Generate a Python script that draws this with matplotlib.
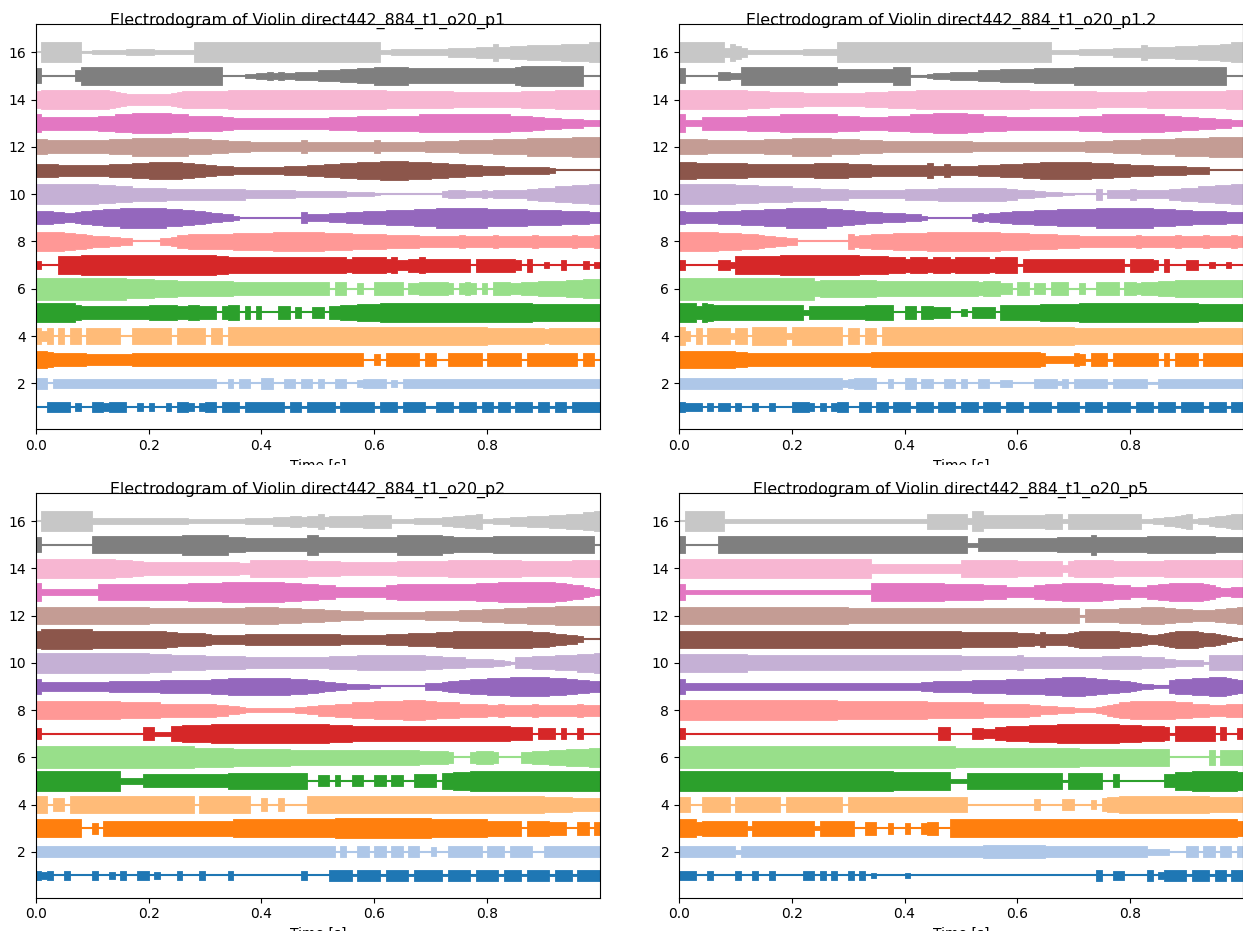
import numpy as np
import matplotlib
matplotlib.use("Agg")
import matplotlib.pyplot as plt
from matplotlib.transforms import Bbox, TransformedBbox

# Electrodograms: 16 electrodes per panel. Each electrode is one string of
# 100 envelope levels, one per 10 ms, written in 10 groups of 0.1 s.
# '0' = no pulses (baseline only), '1'..'a' = pulse amplitude in LEVEL_STEP units.
TITLE_BASE = "Electrodogram of Violin direct442_884_t1_o20_"
PANEL_NAMES = ["p1", "p1.2", "p2", "p5"]
SEGMENT_DUR = 0.01
LEVEL_STEP = 0.046

P1 = [
    "0055550400 5545550040 4004055404 5505551555 5555155155 5551555555 1555155551 1555155515 5155155515 5155155555",
    "5504444444 4444444444 4444444444 4400404400 5500440440 4004400344 4403044444 4444444444 4444444444 4444444444",
    "8876666665 5555555666 6666666666 6666666666 6666666666 6666666600 5066666606 6006666660 6666660666 6666660660",
    "7570707707 7777700777 7777077777 0770888888 8888888888 8888888888 8888888888 8888888888 7777777777 6777777777",
    "9999999766 6666666666 7777766776 6606770606 0006605005 5066777888 8999999999 9999999999 9999999988 8888888888",
    "aaaaaaaaaa aaaaaa9999 9888877777 7777766666 6666666666 6606600500 6666605566 6665056505 0666556667 7777888999",
    "4000888899 9999999999 9999999999 9988777777 7777777777 7777767777 7767556676 6666666066 6666650600 3005000403",
    "9999988776 5554433000 0033466777 7777788888 8899999999 9888887777 7766666655 5555565555 5655555565 5555565556",
    "6665544566 7788899999 9998887766 5443320000 0000000533 3344455566 6677777888 8999999999 8888888777 7776666655",
    "9999999999 9888777666 6665555555 5555555444 4444443333 3333322222 1000000000 0034443334 3444444556 6677788899",
    "6666555555 5556666777 8888887766 5544433333 3333444455 5666777888 8999998888 7776665554 4443333333 3200000000",
    "7766666666 6667777888 8888888777 7666555544 4444444644 4444444444 6444444445 5555566666 6777777888 8888899999",
    "8666666666 6777888999 9999888777 7776655555 5555555555 5566666777 7777777788 8888888888 8888777766 5554444333",
    "8999999999 9998765555 5555678888 8888999999 9999999999 9999999999 9988888888 8888777777 7777778888 8899999999",
    "7000000588 8888888888 8888888888 8880000223 3434334444 5555666777 8888887777 7777777777 7777789999 9999999000",
    "0999999911 2222223333 3222222299 9999999999 9999999999 9999999999 9223333333 3334444455 5855666777 7778888899",
]

P1_2 = [
    "5444040440 4004004000 5554040455 0055055155 5155515551 5551555155 5155551555 5155515555 1555155515 5551555155",
    "5555555555 5555555555 5555555553 4555500400 5504400440 4004400330 0004444240 4444441444 4441144444 4444444444",
    "8888888888 7766666666 6666666666 6666777777 7777777777 7777777777 7777633333 6516661666 6666606066 6606666666",
    "8507077773 7708888883 8888888880 7707708888 8888888888 8888888888 8888888888 7777777777 7777777777 7777777777",
    "9996987777 7777777777 7726666666 6667777700 6606655500 3055550777 7777888888 8999999999 9999999999 9988888888",
    "aaaaaaaaaa aaaaaaaaaa aaaa788888 8888877777 7777777777 7776777550 6605506660 0500666606 6566677788 8888888888",
    "5000000553 8888888899 9999999999 9988888777 6777677767 7777767777 1666666666 6666666661 6666506000 5500300300",
    "9999999888 8777655443 3000000000 7566777788 8888999999 9999999888 8877777666 6555555555 5655555565 5556555565",
    "6555555666 6777788889 9999998887 7665554444 3332000000 0034344556 6667777888 8888999999 9999888877 7666666555",
    "9999999999 8888777777 6666655555 4444444444 5555556666 6666666655 4443322211 0000504444 5444444556 6677788899",
    "8887777777 7766666666 6666777777 6666555555 5555744644 4445555666 6777888888 8887777666 5555444444 3333000000",
    "7777766666 6666677777 8888888777 7766665555 5555555555 5544444444 4444444444 4455555666 6677777788 8888999999",
    "8333666666 6677777788 8888888877 7766666777 7888899999 9888777766 6666666666 6777788888 8888887776 6655544433",
    "9999999999 9988887777 7766666666 6667777888 8899999999 9999999999 9988888888 8888777777 7778888888 8888888999",
    "7000000443 3888888888 8888888866 6666666688 8111233344 4445555666 6667777777 8888888888 8888888888 8888888000",
    "9999999948 6422222222 2233333399 9999999999 9999999999 9999999999 9999992222 2333333444 4475555566 6677778899",
]

P2 = [
    "4340040000 4003040044 0300040004 0000400000 0000000400 0055551555 5155551555 5515555155 5515551555 5155515555",
    "5555555555 5555555555 5555555555 5555555555 5555555555 5550500550 5505505500 4005555550 5550555500 5555555555",
    "8888888800 5077777777 7777777777 7777788888 8888888888 8889999999 9999999999 8888888888 7777770777 7666006606",
    "8806608888 8888888888 8888888808 8888888800 6006000088 8888888888 8888888888 8888888888 8888888888 7777766666",
    "9999999999 9999933336 6666666666 6666777777 7777777700 5505005500 5505500666 6077888999 9999999999 9999999999",
    "aaaaaaaaaa aaaaaaaaaa aaaaaaaa99 9999988888 8888877777 7777777777 7777777766 6665000566 6500005566 6777888899",
    "5000000000 0000000006 6222778888 8999999999 9999999999 9988887777 7777777777 7777777777 7777666605 5505005000",
    "8888888888 8888877777 7766666666 6655443222 2222223344 5556667777 8888899998 8777766666 5565555565 5555556555",
    "7444444444 4445555555 5566666666 6777888888 8888877766 5443322221 1000000003 3345566777 8888999999 9888776655",
    "9999999999 9999999999 8888777777 6666666555 5555555555 5566666777 7777777776 6655554444 4332155566 6677778889",
    "8999999999 8888888888 8887766666 5444444555 5555555555 5555444444 4455556666 6777888888 8888888877 7655443000",
    "8888888888 8888888888 7777777777 7777777888 8887777666 6555444433 3333333334 4444455556 6667777888 8899999999",
    "8333333333 3777777777 7777777888 8889999999 9999888777 6665555555 5566777777 7777777788 8899999999 9988766543",
    "9999999999 9999888776 6666666666 6666665588 8888888877 7777666666 6666777777 7778888888 8888887777 7777788888",
    "7000000000 8888888888 8888889999 9999777666 6666666699 7777777777 7777999999 9988777777 7888888888 8888888880",
    "0999999999 3333333333 3333333222 2222222333 3344455455 7455555566 6662222333 3344556672 2333444555 5666777889",
]

P5 = [
    "4440040000 4004004000 0044040400 4040200000 2000000000 0000000000 0000000000 0000500440 0005035555 1555155155",
    "5555555555 2555555555 5555555555 5555555555 5555555555 5555666666 6666655555 5555555555 5553333000 5505505505",
    "8886777777 7727777777 7777277777 7006600500 5005660088 8888888888 8888888888 8888888888 8888888888 8888888887",
    "7700777770 7777777707 7777777770 7777777777 7777777777 7000000000 0005000055 0004067788 8888888888 8888777777",
    "9999999999 9999999999 9999999999 9999999988 8888888822 2777777777 7777777717 7777700600 0000006688 8999999998",
    "aaaaaaaaaa aaaaaaaaaa aaaaaaaaaa aaaaaaaaaa aaaaaaaaa9 9999999999 9999999999 9888888888 8888888000 0000707777",
    "5000000000 0000000000 0000000000 0000000000 0000006600 0055446677 7788888999 9999999988 8877776177 7777706005",
    "9999999999 9999999999 9999999988 8888888888 8888777777 7777666666 6655444333 2222345677 8888888877 7666555666",
    "7333333333 3333333333 3333333333 3333333333 3334455555 5566666677 7777788899 9988776655 4322111677 7888999876",
    "8888888888 8877777777 7777777777 7777777777 7777777777 6666666666 7555555555 5555566666 6655554433 3331777777",
    "8888888888 8888888888 8888888888 8888888888 8888888888 7777777777 6665755556 7888888877 6654456788 8876654321",
    "8888888888 8888888888 8888888888 7777777777 7777777777 7777777777 7777777777 7166666677 7788887766 6555566778",
    "7222222222 2222222222 2222222222 2222888888 8888888777 7777666655 5556677788 8888877666 5556677888 8887654455",
    "9999999999 9999999999 9999999999 9999444444 4444444444 8888888888 7777777737 8888888777 7777778888 8888888888",
    "8000000888 8888888888 8888888888 8888888888 8888888888 8226666666 6666666777 7779777777 7778888888 8888877777",
    "0999999922 2222222222 2222222222 2222222222 2222777777 7399666666 6666677727 7777777777 7722334456 7233455677",
]

PANELS = [P1, P1_2, P2, P5]

# axes boxes in pixels: left, top, right, bottom
W, H = 1243, 931
BOXES = [(35.7, 24.3, 600.0, 429.3), (679.0, 24.3, 1242.7, 429.3),
         (35.7, 493.3, 600.0, 897.7), (679.0, 493.3, 1242.7, 897.7)]

fig = plt.figure(figsize=(W / 100, H / 100), dpi=100)
cmap = plt.get_cmap("tab20")

for idx, (name, panel, box) in enumerate(zip(PANEL_NAMES, PANELS, BOXES)):
    l, t, r, b = box
    ax = fig.add_axes([l / W, 1 - b / H, (r - l) / W, (b - t) / H])
    for k, env in enumerate(panel, start=1):
        lv = np.array([int(c, 16) for c in env.replace(" ", "")]) * LEVEL_STEP
        tt = np.arange(len(lv) + 1) * SEGMENT_DUR
        amp = np.append(lv, lv[-1])
        col = cmap(k - 1)
        ax.axhline(k, color=col, lw=1.5, zorder=1)
        ax.fill_between(tt, k - amp, k + amp, step="post", color=col,
                        lw=0.6, zorder=2)
    ax.set_xlim(0, 0.9999)
    ax.set_ylim(0.055, 17.18)
    # title sits on the top spine, a little left of centre
    ax.set_title(TITLE_BASE + name, fontsize=11.4, x=0.4823, y=1.0, pad=0)
    ax.set_xlabel("Time [s]")
    if idx < 2:
        # the upper row label is cut off where the lower row image begins
        lbl = ax.xaxis.label
        lbl.set_clip_on(True)
        lbl.set_clip_box(TransformedBbox(Bbox([[0, 1 - 465 / H], [1, 1]]),
                                         fig.transFigure))

fig.savefig("out.png", dpi=100)
